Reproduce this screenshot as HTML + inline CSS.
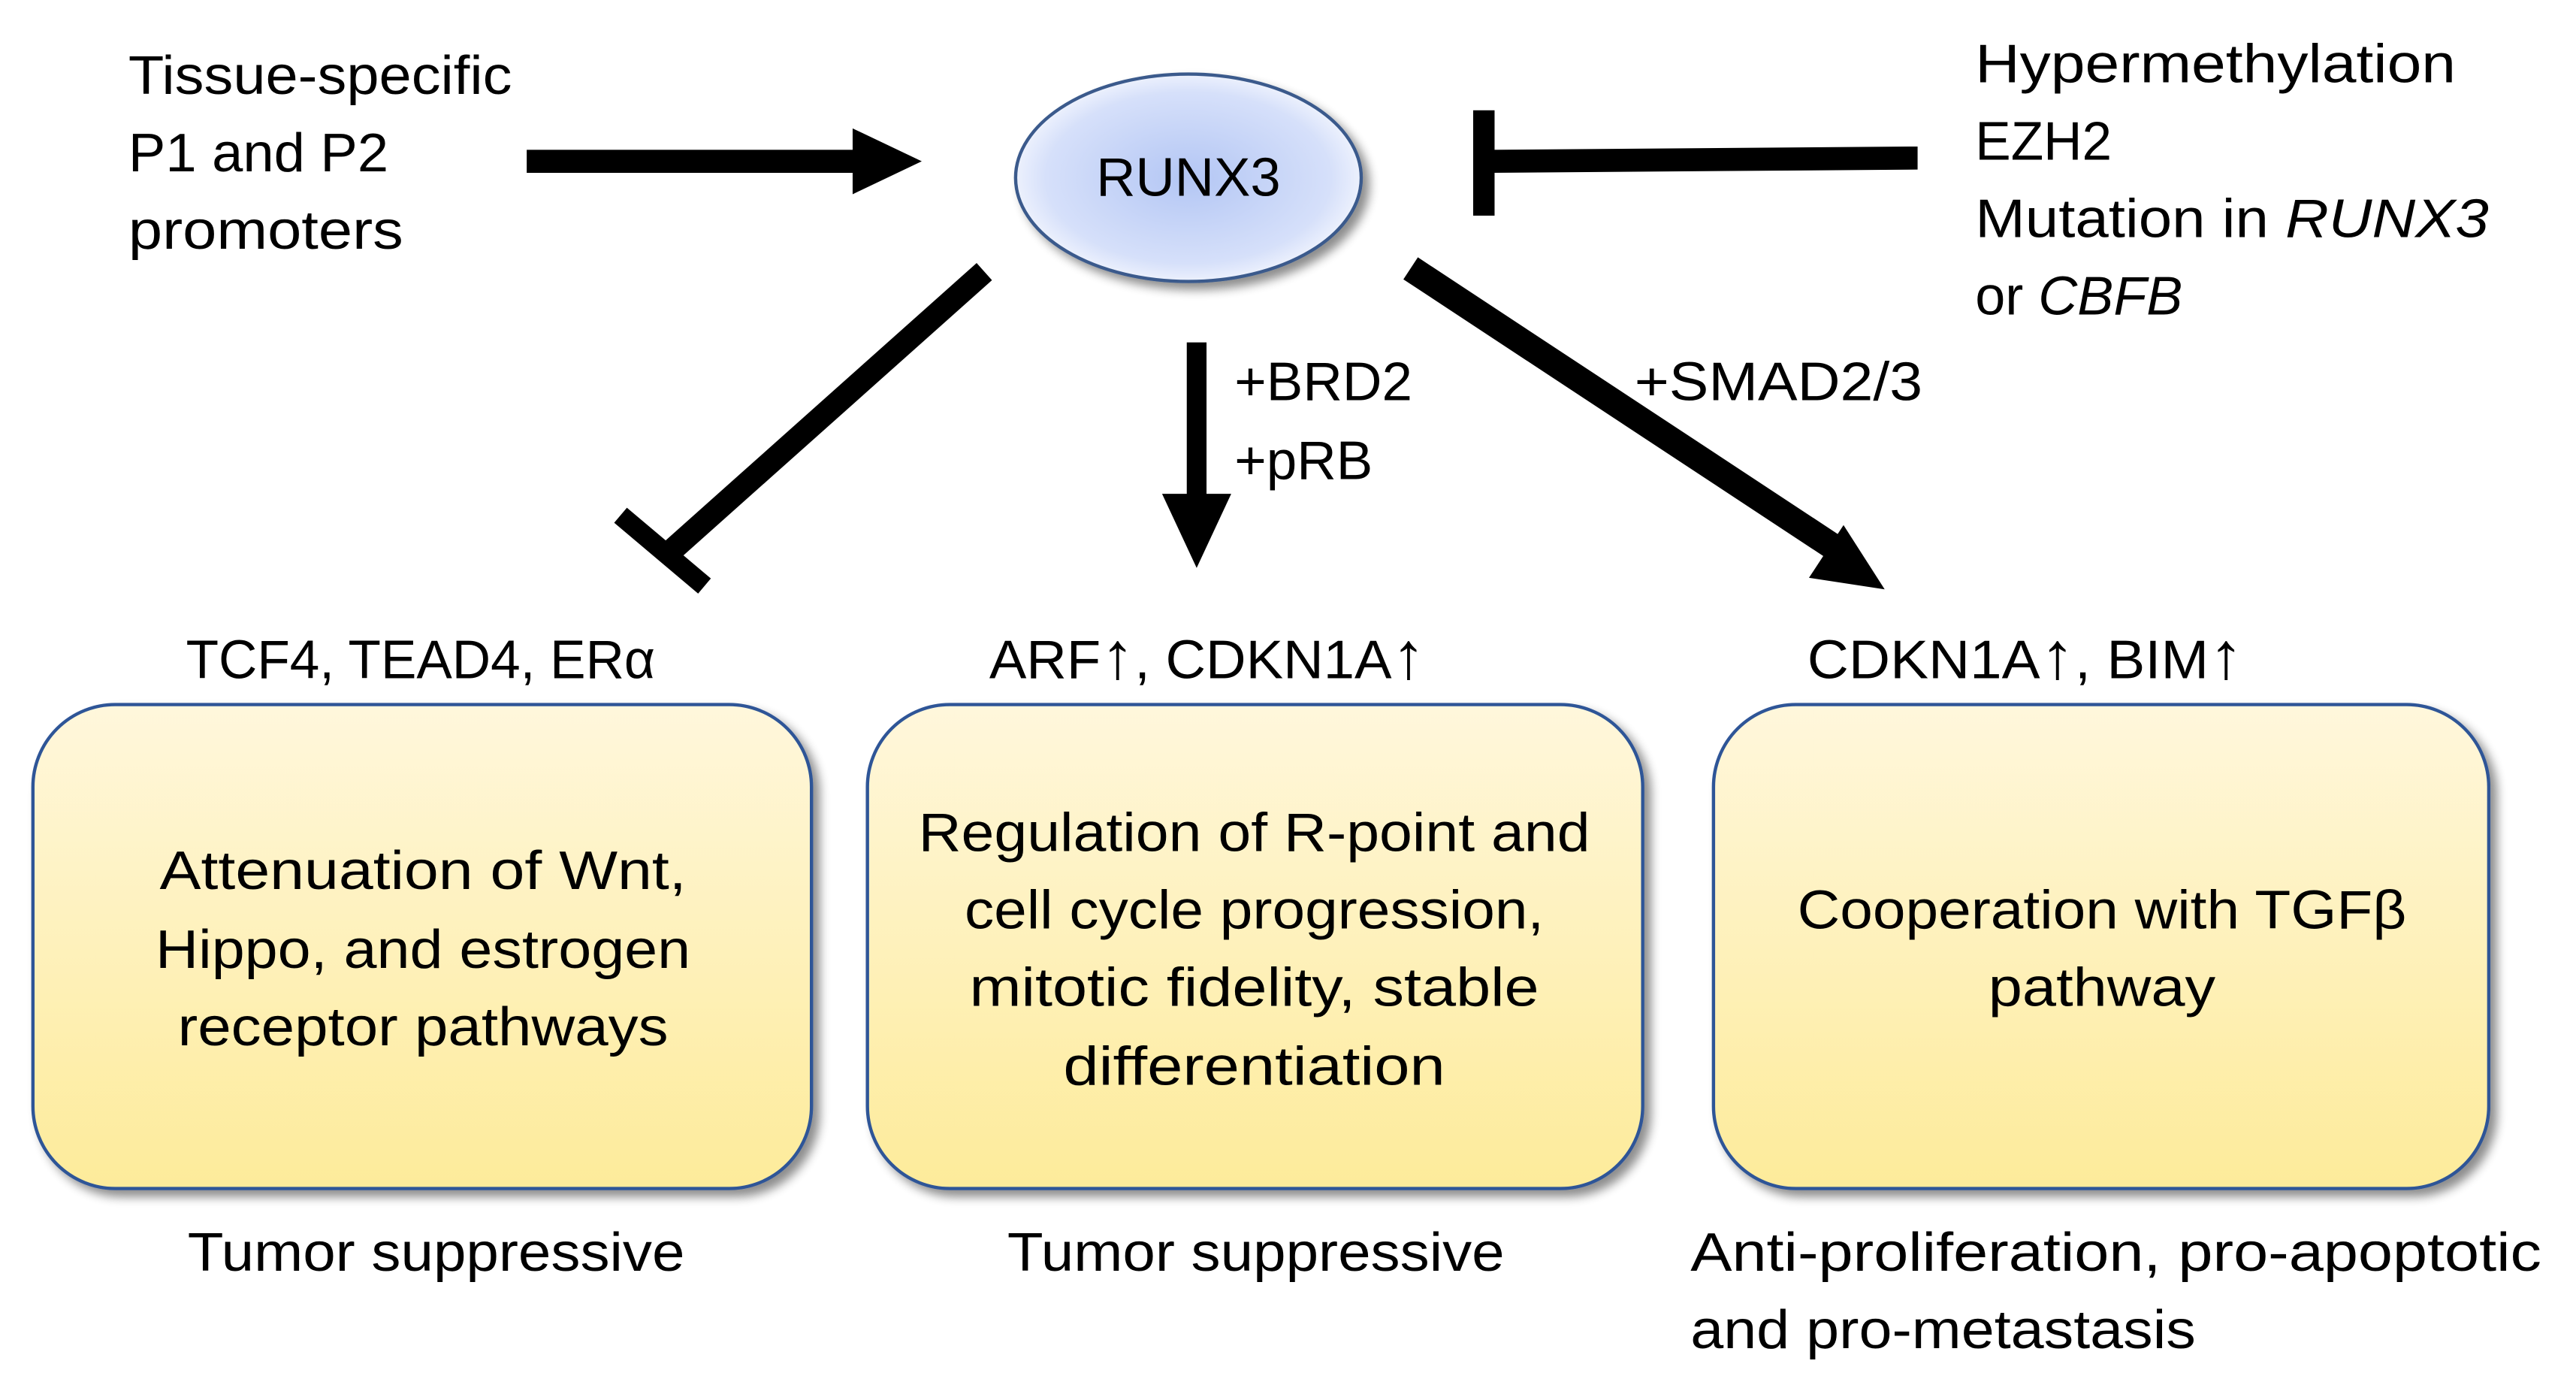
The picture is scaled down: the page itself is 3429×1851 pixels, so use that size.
<!DOCTYPE html>
<html><head><meta charset="utf-8"><style>
html,body{margin:0;padding:0;background:#fff;}
svg{display:block;}
text{font-family:"Liberation Sans",sans-serif;font-size:33px;fill:#000;}
</style></head><body>
<svg width="3429" height="1851" viewBox="0 0 1565 845" preserveAspectRatio="none" xmlns="http://www.w3.org/2000/svg">
<defs>
<radialGradient id="eg" cx="50%" cy="50%" r="55%">
<stop offset="0" stop-color="#b3c6f4"/><stop offset="0.75" stop-color="#d6e0fa"/><stop offset="0.92" stop-color="#eef2fd"/><stop offset="1" stop-color="#8a93a8"/>
</radialGradient>
<linearGradient id="bg" x1="0" y1="0" x2="0" y2="1">
<stop offset="0" stop-color="#fff7dc"/><stop offset="1" stop-color="#fdeb9a"/>
</linearGradient>
<filter id="sh" x="-10%" y="-10%" width="125%" height="125%"><feGaussianBlur in="SourceAlpha" stdDeviation="3"/><feOffset dx="4" dy="4"/><feComponentTransfer><feFuncA type="linear" slope="0.45"/></feComponentTransfer><feMerge><feMergeNode/><feMergeNode in="SourceGraphic"/></feMerge></filter>
</defs>

<g lengthAdjust="spacingAndGlyphs">
<text x="78" y="57" textLength="233" lengthAdjust="spacingAndGlyphs">Tissue-specific</text>
<text x="78" y="104" textLength="158" lengthAdjust="spacingAndGlyphs">P1 and P2</text>
<text x="78" y="151" textLength="167" lengthAdjust="spacingAndGlyphs">promoters</text>
</g>

<rect x="320" y="91" width="202" height="14"/>
<polygon points="518,78 560,98 518,118"/>

<ellipse cx="722" cy="108" rx="105" ry="63" fill="url(#eg)" stroke="#3a5a8c" stroke-width="2" filter="url(#sh)"/>
<text x="722" y="119" text-anchor="middle" textLength="112" lengthAdjust="spacingAndGlyphs">RUNX3</text>

<polygon points="905,91 1165,89 1165,103 905,105"/>
<rect x="895" y="67" width="13" height="64"/>

<text x="1200" y="50" textLength="292" lengthAdjust="spacingAndGlyphs">Hypermethylation</text>
<text x="1200" y="97" textLength="83" lengthAdjust="spacingAndGlyphs">EZH2</text>
<text x="1200" y="144" textLength="312" lengthAdjust="spacingAndGlyphs">Mutation in <tspan font-style="italic">RUNX3</tspan></text>
<text x="1200" y="191" textLength="126" lengthAdjust="spacingAndGlyphs">or <tspan font-style="italic">CBFB</tspan></text>

<line x1="598" y1="165" x2="404" y2="338" stroke="#000" stroke-width="14"/>
<line x1="377" y1="313" x2="428" y2="356" stroke="#000" stroke-width="12"/>

<rect x="721" y="208" width="12" height="96"/>
<polygon points="706,300 748,300 727,345"/>
<text x="750" y="243" textLength="108" lengthAdjust="spacingAndGlyphs">+BRD2</text>
<text x="750" y="291" textLength="84" lengthAdjust="spacingAndGlyphs">+pRB</text>

<line x1="857" y1="163" x2="1115" y2="333" stroke="#000" stroke-width="16"/>
<polygon points="1099,351 1120,319 1145,358"/>
<text x="993" y="243" textLength="175" lengthAdjust="spacingAndGlyphs">+SMAD2/3</text>

<text x="113" y="412" textLength="285" lengthAdjust="spacingAndGlyphs">TCF4, TEAD4, ERα</text>
<text x="601" y="412" textLength="265" lengthAdjust="spacingAndGlyphs">ARF<tspan font-size="40">↑</tspan>, CDKN1A<tspan font-size="40">↑</tspan></text>
<text x="1098" y="412" textLength="265" lengthAdjust="spacingAndGlyphs">CDKN1A<tspan font-size="40">↑</tspan>, BIM<tspan font-size="40">↑</tspan></text>

<rect x="20" y="428" width="473" height="294" rx="50" fill="url(#bg)" stroke="#2f5597" stroke-width="2" filter="url(#sh)"/>
<rect x="527" y="428" width="471" height="294" rx="50" fill="url(#bg)" stroke="#2f5597" stroke-width="2" filter="url(#sh)"/>
<rect x="1041" y="428" width="471" height="294" rx="50" fill="url(#bg)" stroke="#2f5597" stroke-width="2" filter="url(#sh)"/>

<text x="257" y="540" text-anchor="middle" textLength="320" lengthAdjust="spacingAndGlyphs">Attenuation of Wnt,</text>
<text x="257" y="588" text-anchor="middle" textLength="325" lengthAdjust="spacingAndGlyphs">Hippo, and estrogen</text>
<text x="257" y="635" text-anchor="middle" textLength="298" lengthAdjust="spacingAndGlyphs">receptor pathways</text>

<text x="762" y="517" text-anchor="middle" textLength="408" lengthAdjust="spacingAndGlyphs">Regulation of R-point and</text>
<text x="762" y="564" text-anchor="middle" textLength="352" lengthAdjust="spacingAndGlyphs">cell cycle progression,</text>
<text x="762" y="611" text-anchor="middle" textLength="346" lengthAdjust="spacingAndGlyphs">mitotic fidelity, stable</text>
<text x="762" y="659" text-anchor="middle" textLength="232" lengthAdjust="spacingAndGlyphs">differentiation</text>

<text x="1277" y="564" text-anchor="middle" textLength="370" lengthAdjust="spacingAndGlyphs">Cooperation with TGFβ</text>
<text x="1277" y="611" text-anchor="middle" textLength="138" lengthAdjust="spacingAndGlyphs">pathway</text>

<text x="114" y="772" textLength="302" lengthAdjust="spacingAndGlyphs">Tumor suppressive</text>
<text x="612" y="772" textLength="302" lengthAdjust="spacingAndGlyphs">Tumor suppressive</text>
<text x="1027" y="772" textLength="517" lengthAdjust="spacingAndGlyphs">Anti-proliferation, pro-apoptotic</text>
<text x="1027" y="819" textLength="307" lengthAdjust="spacingAndGlyphs">and pro-metastasis</text>
</svg>
</body></html>
